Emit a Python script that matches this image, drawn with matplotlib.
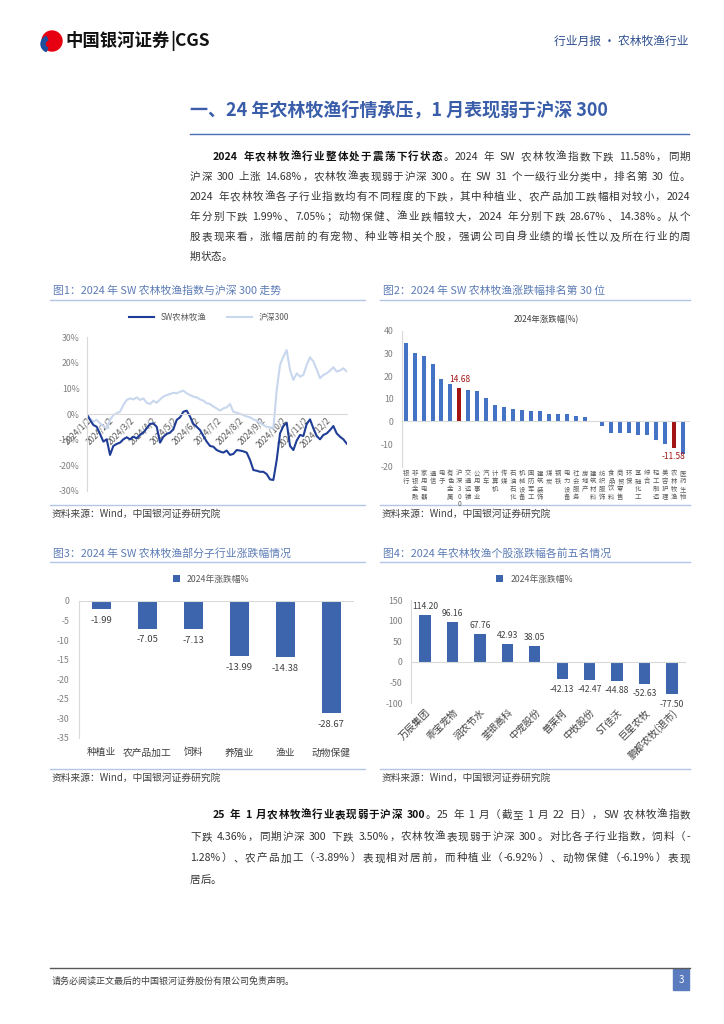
import re
import matplotlib
matplotlib.use('Agg')
import matplotlib.pyplot as plt
import pandas as pd
from matplotlib.patches import Rectangle, Circle, Wedge

plt.rcParams['font.family'] = ['Noto Sans CJK SC', 'DejaVu Sans']
plt.rcParams['axes.unicode_minus'] = False

W, H = 724, 1024

# ---- 图1: 2024 cumulative change (%), sampled about every 4.7 days ----
hs300 = [0, -1.7, -3.0, -2.3, -3.7, -4.7, -5.6, -2.3, -0.4, 0.3,
         0.9, 3.5, 5.5, 6.1, 5.7, 6.5, 5.5, 6.1, 4.4, 3.9,
         5.2, 4.4, 5.7, 6.8, 7.4, 7.8, 8.3, 8.1, 8.7, 9.1,
         8.1, 7.4, 6.8, 6.5, 5.7, 5.2, 4.2, 3.9, 2.9, 2.2,
         1.3, 2.2, 2.6, 3.9, 0.9, 0.5, 0.0, -0.4, -1.0, -1.3,
         -2.1, -2.6, -3.4, -4.3, -5.0, -5.2, -5.6, 9.4, 19.2, 22.4,
         25.0, 17.2, 13.3, 15.9, 14.6, 15.3, 19.2, 22.2, 20.5, 17.5,
         14.0, 15.3, 15.9, 17.0, 18.3, 16.6, 17.0, 17.9, 16.6]
sw_agri = [0, -2.3, -4.3, -5.0, -7.8, -10.8, -9.9, -16.0, -12.5, -11.7,
           -11.2, -9.9, -9.1, -9.9, -8.9, -9.5, -8.2, -7.3, -5.6, -3.9,
           -3.7, -5.0, -11.2, -8.9, -7.8, -7.3, -6.0, -2.3, -1.3, 0.9,
           1.3, -1.0, -3.9, -5.0, -6.3, -8.6, -10.8, -12.5, -12.8, -14.1,
           -14.7, -15.1, -14.3, -16.0, -15.6, -14.1, -14.3, -14.6, -15.1, -18.0,
           -21.9, -22.2, -22.6, -22.6, -23.5, -25.6, -25.8, -18.0, -7.6, -4.7,
           -3.4, -12.5, -14.1, -10.4, -8.2, -8.6, -3.9, -2.1, -5.6, -8.6,
           -9.9, -8.2, -7.6, -6.3, -4.7, -7.6, -8.9, -9.9, -11.58]
month_ticks = [f'2024-{m:02d}-02' for m in range(1, 13)]
month_labels = [f'2024/{m}/2' for m in range(1, 13)]

# ---- 图2: SW first-level industries, 2024 change (%) ----
ind_names = ['银行', '非银金融', '家用电器', '通信', '电子', '有色金属', '沪深300', '交通运输',
             '公用事业', '汽车', '计算机', '传媒', '石油石化', '机械设备', '国防军工', '建筑装饰',
             '煤炭', '钢铁', '电力设备', '社会服务', '房地产', '建筑材料', '纺织服饰', '食品饮料',
             '商贸零售', '环保', '基础化工', '综合', '轻工制造', '美容护理', '农林牧渔', '医药生物']
ind_chg = [34.4, 30.2, 28.9, 25.5, 18.7, 16.5, 14.68, 13.9, 13.2, 10.4, 7.1, 6.2, 5.6, 5.0,
           4.5, 4.5, 3.3, 3.2, 3.1, 2.3, 1.9, 0.1, -2.0, -5.0, -5.0, -5.3, -5.9, -6.0,
           -8.0, -10.2, -11.58, -14.3]
highlight = ['沪深300', '农林牧渔']

# ---- 图3: sub-industries ----
sub_names = ['种植业', '农产品加工', '饲料', '养殖业', '渔业', '动物保健']
sub_chg = [-1.99, -7.05, -7.13, -13.99, -14.38, -28.67]

# ---- 图4: top / bottom five stocks ----
stk_names = ['万辰集团', '乖宝宠物', '润农节水', '荃银高科', '中宠股份',
             '普莱柯', '中牧股份', 'ST佳沃', '巨星农牧', '鹏都农牧(退市)']
stk_chg = [114.20, 96.16, 67.76, 42.93, 38.05, -42.13, -42.47, -44.88, -52.63, -77.50]

para1 = [
    [('2024 年农林牧渔行业整体处于震荡下行状态', True), ('。2024 年 SW 农林牧渔指数下跌 11.58%，同期', False)],
    [('沪深 300 上涨 14.68%，农林牧渔表现弱于沪深 300。在 SW 31 个一级行业分类中，排名第 30 位。', False)],
    [('2024 年农林牧渔各子行业指数均有不同程度的下跌，其中种植业、农产品加工跌幅相对较小，2024', False)],
    [('年分别下跌 1.99%、7.05%；动物保健、渔业跌幅较大，2024 年分别下跌 28.67%、14.38%。从个', False)],
    [('股表现来看，涨幅居前的有宠物、种业等相关个股，强调公司自身业绩的增长性以及所在行业的周', False)],
    [('期状态。', False)],
]
para2 = [
    [('25 年 1 月农林牧渔行业表现弱于沪深 300', True), ('。25 年 1 月（截至 1 月 22 日），SW 农林牧渔指数', False)],
    [('下跌 4.36%，同期沪深 300 下跌 3.50%，农林牧渔表现弱于沪深 300。对比各子行业指数，饲料（-', False)],
    [('1.28%）、农产品加工（-3.89%）表现相对居前，而种植业（-6.92%）、动物保健（-6.19%）表现', False)],
    [('居后。', False)],
]

GRID = '#d9d9d9'
TICK = '#7f7f7f'
BAR = '#3d65ad'
TITLE_C = '#5b7bb5'
LINE_C = '#b4c6e7'

fig = plt.figure(figsize=(7.24, 10.24), dpi=100)
page = fig.add_axes([0, 0, 1, 1])
page.set_xlim(0, W)
page.set_ylim(H, 0)
page.axis('off')
renderer = fig.canvas.get_renderer()


def box(x0, y0, x1, y1):
    return fig.add_axes([x0 / W, 1 - y1 / H, (x1 - x0) / W, (y1 - y0) / H])


def text_line(segs, x0, x1, y, size=7.6, just=True):
    toks = []
    for s, b in segs:
        for t in re.findall(r'[A-Za-z0-9.%\-]+| |.', s):
            toks.append((t, b))
    objs, widths = [], []
    for t, b in toks:
        if t == ' ':
            objs.append(None)
            widths.append(size * 100 / 72 * 0.28)
            continue
        o = page.text(0, y, t, fontsize=size, va='center', ha='left',
                      fontweight='bold' if b else 'normal',
                      color='#111111' if b else '#333333')
        objs.append(o)
        widths.append(o.get_window_extent(renderer).width)
    gap = (x1 - x0 - sum(widths)) / (len(toks) - 1) if just else 0
    x = x0
    for o, w in zip(objs, widths):
        if o is not None:
            o.set_x(x)
        x += w + gap


# header
page.add_patch(Circle((52, 41), 10, color='#e60012'))
page.add_patch(Wedge((49, 44), 8, 110, 250, width=4, color='#1d4f9c'))
logo = page.text(65, 41, '中国银河证券', fontsize=12.5, fontweight='bold', va='center',
                 color='#111111')
lw_px = logo.get_window_extent(renderer).width
page.text(65 + lw_px + 1, 41, '|CGS', fontsize=12.5, fontweight='bold', va='center',
          color='#111111')
page.text(689, 41, '行业月报 · 农林牧渔行业', fontsize=8.5, va='center', ha='right', color='#2f4f8f')

# section title
page.text(190, 110, '一、24 年农林牧渔行情承压，1 月表现弱于沪深 300', fontsize=13,
          fontweight='bold', va='center', color='#3a5daa')
page.plot([190, 689], [134, 134], color='#4a6db5', lw=1)

for i, segs in enumerate(para1):
    x0 = 213 if i == 0 else 190
    text_line(segs, x0, 690, 157 + 20 * i, just=i < len(para1) - 1)
for i, segs in enumerate(para2):
    x0 = 213 if i == 0 else 190
    text_line(segs, x0, 690, 815 + 21.7 * i, just=i < len(para2) - 1)

# figure titles and source lines
titles = [(53, 291, '图1：2024 年 SW 农林牧渔指数与沪深 300 走势'),
          (383, 291, '图2：2024 年 SW 农林牧渔涨跌幅排名第 30 位'),
          (53, 553, '图3：2024 年 SW 农林牧渔部分子行业涨跌幅情况'),
          (383, 553, '图4：2024 年农林牧渔个股涨跌幅各前五名情况')]
for x, y, t in titles:
    page.text(x, y, t, fontsize=7.8, va='center', color=TITLE_C)
for x0, x1 in [(50, 365), (380, 690)]:
    for yl, ys in [(300, 505), (562, 769)]:
        page.plot([x0, x1], [yl, yl], color=LINE_C, lw=1)
        page.plot([x0, x1], [ys, ys], color=LINE_C, lw=1)
        page.text(x0 + 2, ys + 9, '资料来源：Wind，中国银河证券研究院', fontsize=7,
                  va='center', color='#404040')

# footer
page.plot([50, 690], [968, 968], color='#595959', lw=1)
page.text(52, 981, '请务必阅读正文最后的中国银河证券股份有限公司免责声明。', fontsize=6.5,
          va='center', color='#404040')
page.add_patch(Rectangle((673, 969), 16, 21, color='#5b7bbf'))
page.text(681, 980, '3', fontsize=7, color='white', ha='center', va='center')


def style(ax, left_pad):
    for s in ['top', 'right', 'bottom']:
        ax.spines[s].set_visible(False)
    ax.spines['left'].set_color(GRID)
    ax.tick_params(length=0, labelsize=6.3, labelcolor=TICK)
    ax.tick_params(axis='y', pad=left_pad)
    ax.patch.set_alpha(0)


# 图1
ax1 = box(86.7, 337.3, 346.7, 490.7)
dates = pd.date_range('2024-01-02', '2024-12-31', periods=len(sw_agri))
l2, = ax1.plot(dates, hs300, color='#c9d7ee', lw=1.5)
l1, = ax1.plot(dates, sw_agri, color='#1f3d97', lw=1.5)
ax1.set_xlim(dates[0], dates[-1])
ax1.set_ylim(-30, 30)
style(ax1, 5)
ax1.spines['bottom'].set_visible(True)
ax1.spines['bottom'].set_position(('data', 0))
ax1.spines['bottom'].set_color(GRID)
ax1.set_yticks(range(-30, 31, 10))
ax1.set_yticklabels([f'{v}%' for v in range(-30, 31, 10)])
ax1.set_xticks(pd.to_datetime(month_ticks))
ax1.set_xticklabels(month_labels, rotation=45, ha='right', rotation_mode='anchor',
                    fontsize=6, color='#595959')
ax1.tick_params(axis='x', pad=1)
ax1.legend([l1, l2], ['SW农林牧渔', '沪深300'], loc='lower center', bbox_to_anchor=(0.47, 1.05),
           ncol=2, frameon=False, fontsize=6, handlelength=3, columnspacing=2.5,
           labelcolor='#595959')

# 图2
ax2 = box(401.7, 330.7, 690, 466.7)
xs = range(len(ind_names))
cols = ['#a31515' if n in highlight else '#4472c4' for n in ind_names]
ax2.bar(xs, ind_chg, width=0.45, color=cols)
ax2.axhline(0, color=GRID, lw=0.8)
ax2.set_xlim(-0.45, 31.8)
ax2.set_ylim(-20, 40)
style(ax2, 6)
ax2.set_yticks(range(-20, 41, 10))
ax2.set_xticks(list(xs))
ax2.set_xticklabels(['\n'.join(n) for n in ind_names], fontsize=4.6, color='#595959',
                    va='top', linespacing=0.95)
ax2.tick_params(axis='x', pad=2)
ax2.set_title('2024年涨跌幅(%)', fontsize=6, color='#404040', pad=6)
for i, n in enumerate(ind_names):
    if n in highlight:
        v = ind_chg[i]
        ax2.annotate(f'{v:.2f}', (i, v), xytext=(0, 3 if v > 0 else -3),
                     textcoords='offset points', ha='center',
                     va='bottom' if v > 0 else 'top', fontsize=6, color='#a31515')

# 图3
ax3 = box(79, 601, 354, 737.7)
xs = range(len(sub_names))
ax3.bar(xs, sub_chg, width=0.4, color=BAR, label='2024年涨跌幅%')
ax3.axhline(0, color=GRID, lw=0.8)
ax3.set_xlim(-0.485, 5.49)
ax3.set_ylim(-35, 0)
style(ax3, 7)
ax3.set_yticks(range(-35, 1, 5))
ax3.set_xticks(list(xs))
ax3.set_xticklabels(sub_names, fontsize=7, color='#404040')
ax3.tick_params(axis='x', pad=7, labelsize=7, labelcolor='#404040')
for i, v in enumerate(sub_chg):
    ax3.annotate(f'{v:.2f}', (i, v), xytext=(0, -5), textcoords='offset points',
                 ha='center', va='top', fontsize=6.8, color='#404040')
ax3.legend(loc='lower center', bbox_to_anchor=(0.48, 1.07), frameon=False, fontsize=6.3,
           handlelength=0.8, handleheight=0.8, labelcolor='#595959')

# 图4
ax4 = box(411, 600, 686, 703.3)
xs = range(len(stk_names))
ax4.bar(xs, stk_chg, width=0.41, color=BAR, label='2024年涨跌幅%')
ax4.axhline(0, color=GRID, lw=0.8)
ax4.set_xlim(-0.51, 9.51)
ax4.set_ylim(-100, 150)
style(ax4, 6)
ax4.set_yticks(range(-100, 151, 50))
ax4.set_xticks(list(xs))
ax4.set_xticklabels(stk_names, rotation=45, ha='right', rotation_mode='anchor',
                    fontsize=7, color='#404040')
ax4.tick_params(axis='x', pad=3, labelsize=7, labelcolor='#404040')
for i, v in enumerate(stk_chg):
    ax4.annotate(f'{v:.2f}', (i, v), xytext=(0, 3 if v > 0 else -4),
                 textcoords='offset points', ha='center',
                 va='bottom' if v > 0 else 'top', fontsize=6.2, color='#404040')
ax4.legend(loc='lower center', bbox_to_anchor=(0.45, 1.08), frameon=False, fontsize=6.3,
           handlelength=0.8, handleheight=0.8, labelcolor='#595959')

fig.savefig('out.png', dpi=100)
